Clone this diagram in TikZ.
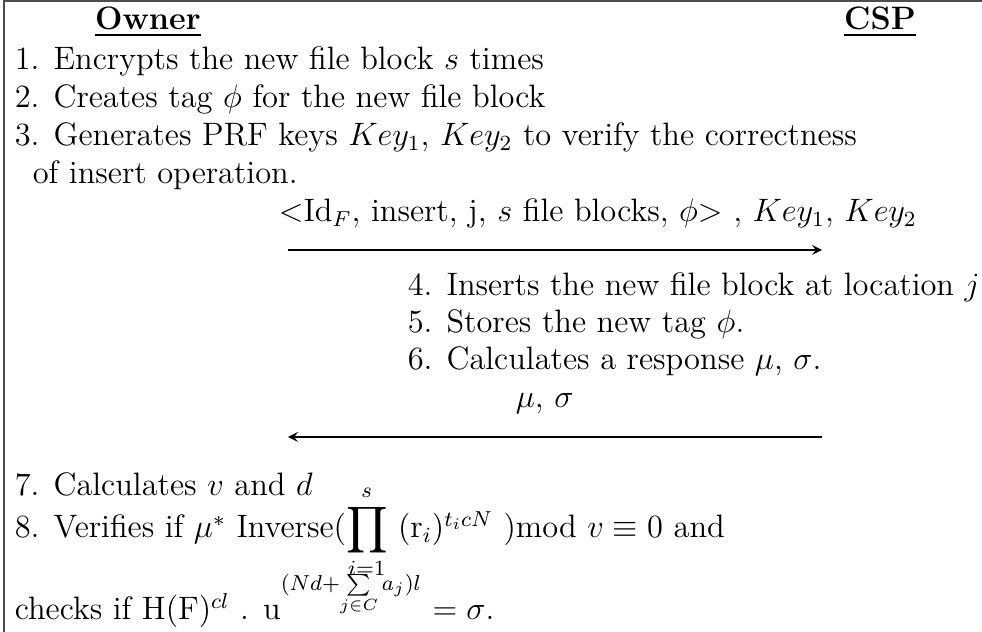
\documentclass[tikz,border=0pt,12pt]{standalone}
\usepackage{amsmath,amssymb}
\usetikzlibrary{positioning, arrows.meta}
\tikzset{every picture/.append style={semithick}}
\tikzset{txt/.style={anchor=base west, inner sep=0pt}}
\tikzset{head/.style={anchor=base, inner sep=0pt, font=\bfseries}}

\begin{document}
\begin{tikzpicture}[x=0.37pt, y=-0.37pt]
    \clip (0,0) rectangle (982,632);
    \draw[thin, black!70] (990,1) -- (4,1) -- (4,640);
    % parties
    \node[head] (owner) at (148,30) {\underline{Owner}};
    \node[head] (csp) at (880,30) {\underline{CSP}};
    % owner side
    \node[txt] (enc) at (14,70) {1. Encrypts the new file block $s$ times};
    \node[txt] (tag) at (14,108) {2. Creates tag $\phi$ for the new file block};
    \node[txt] (keys) at (14,146) {3. Generates PRF keys $Key_1$, $Key_2$ to verify the correctness};
    \node[txt] (keysb) at (32,184) {of insert operation.};
    % request
    \node[txt] (req) at (278,222) {$<$Id$_F$, insert, j, $s$ file blocks, $\phi$$>$ , $Key_1$, $Key_2$};
    \coordinate (reqL) at (288,250);
    \coordinate (reqR) at (822,250);
    \draw[->, >=stealth] (reqL) -- (reqR);
    % csp side
    \node[txt] (ins) at (407,296) {4. Inserts the new file block at location $j$};
    \node[txt] (store) at (407,333) {5. Stores the new tag $\phi$.};
    \node[txt] (resp) at (407,370) {6. Calculates a response $\mu$, $\sigma$.};
    % response
    \node[txt] (rsp) at (515,408) {$\mu$, $\sigma$};
    \coordinate (rspR) at (822,437);
    \coordinate (rspL) at (288,437);
    \draw[->, >=stealth] (rspR) -- (rspL);
    % verification
    \node[txt] (calc) at (14,496) {7. Calculates $v$ and $d$};
    \node[txt] (verify) at (14,538) {8. Verifies if $\mu^*$ Inverse($\displaystyle\prod_{i=1}^{s}$ (r$_i$)$^{t_icN}$ )mod $v \equiv 0$ and};
    \node[txt] (checks) at (14,620) {checks if H(F)$^{cl}$ . u$^{(Nd+\sum\limits_{j\in C}a_j)l}$ $= \sigma$.};
\end{tikzpicture}
\end{document}
